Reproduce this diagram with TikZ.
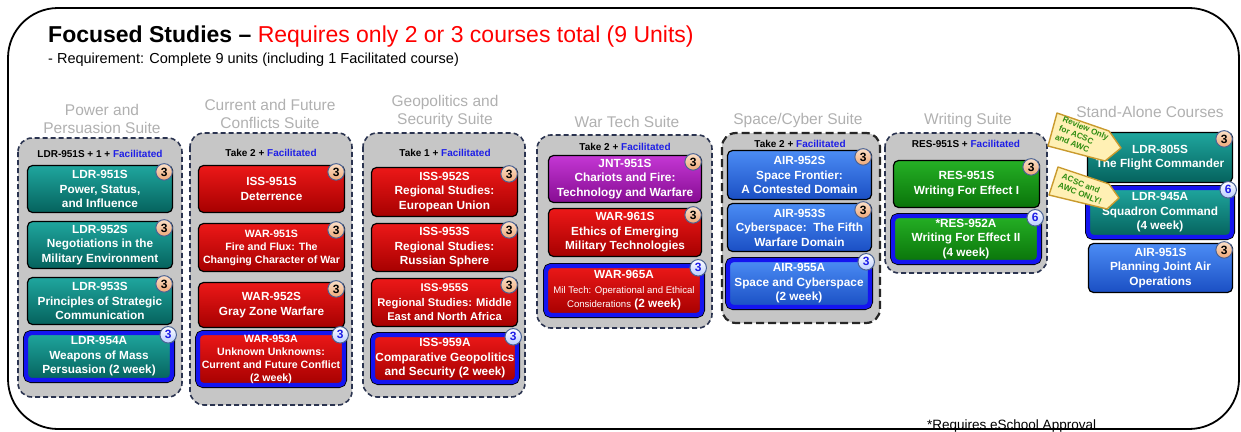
\documentclass[tikz,border=0pt]{standalone}
\usepackage{fontspec}
\setmainfont{Liberation Sans}
\definecolor{suitegray}{HTML}{C6C6C6}
\definecolor{suiteline}{HTML}{2B3450}
\definecolor{titlegray}{HTML}{B0B0B0}
\definecolor{tealT}{HTML}{1FA69E}
\definecolor{tealB}{HTML}{05625D}
\definecolor{redT}{HTML}{EC1818}
\definecolor{redB}{HTML}{A60000}
\definecolor{purT}{HTML}{C437D4}
\definecolor{purB}{HTML}{860C92}
\definecolor{bluT}{HTML}{4B8CF4}
\definecolor{bluB}{HTML}{1A4FC4}
\definecolor{grnT}{HTML}{25B025}
\definecolor{grnB}{HTML}{0A740A}
\definecolor{frameblue}{HTML}{1414F0}
\definecolor{peachT}{HTML}{FBE0C8}
\definecolor{peachB}{HTML}{EFA878}
\definecolor{badgeline}{HTML}{4A6294}
\definecolor{abadgeB}{HTML}{B9CCFF}
\definecolor{facblue}{HTML}{1E1EE6}
\definecolor{tagyellow}{HTML}{FFF0B4}
\definecolor{taggold}{HTML}{C99A2E}
\definecolor{taggreen}{HTML}{2E8C10}
\tikzset{
  suitebox/.style={draw=suiteline, line width=1.6pt, dash pattern=on 5pt off 3pt, fill=suitegray, rounded corners=14pt},
  heavysuite/.style={draw=black!85, line width=2.2pt, dash pattern=on 8pt off 4pt, fill=suitegray, rounded corners=14pt},
  suitetitle/.style={text=titlegray, font=\fontsize{15.5}{18}\selectfont, align=center},
  hdr/.style={font=\bfseries\fontsize{10}{12}\selectfont},
  course/.style={rectangle, rounded corners=5pt, draw=black, line width=1.2pt, inner sep=1pt, align=center, text=white, font=\bfseries\fontsize{11.8}{14.5}\selectfont},
  smallcourse/.style={font=\bfseries\fontsize{10.6}{13}\selectfont},
  tealc/.style={top color=tealT, bottom color=tealB},
  redc/.style={top color=redT, bottom color=redB},
  purc/.style={top color=purT, bottom color=purB},
  bluc/.style={top color=bluT, bottom color=bluB},
  grnc/.style={top color=grnT, bottom color=grnB},
  aframe/.style={draw=frameblue, line width=4.4pt, preaction={draw=black, line width=6pt}},
  badge/.style={circle, draw=badgeline, line width=1pt, inner sep=0pt, minimum size=16.5pt, top color=peachT, bottom color=peachB, text=black, font=\bfseries\fontsize{12}{12}\selectfont},
  abadge/.style={badge, top color=white, bottom color=abadgeB, text=facblue},
  tagshape/.style={fill=tagyellow, draw=taggold, line width=1.4pt, line join=round},
  tagtext/.style={inner sep=0pt, align=left, text=taggreen, font=\bfseries\fontsize{8.2}{9.6}\selectfont},
}
\begin{document}
\begin{tikzpicture}[x=1pt,y=-1pt]
\useasboundingbox (0,0) rectangle (1241,431);
\draw[line width=1.8pt, rounded corners=50pt] (8,8) rectangle (1239,429);

% title
\node[anchor=base west, inner sep=0pt, font=\fontsize{23}{26}\selectfont] (title) at (48,42)
  {\textbf{Focused Studies –} \textcolor{red}{Requires only 2 or 3 courses total (9 Units)}};
\node[anchor=base west, inner sep=0pt, font=\fontsize{14.5}{16}\selectfont] (sub) at (48,63)
  {- Requirement: Complete 9 units (including 1 Facilitated course)};
\node[anchor=base west, inner sep=0pt, font=\fontsize{13.5}{16}\selectfont] (foot) at (927,429)
  {*Requires eSchool Approval};

% column 1
\node[suitetitle] (t1) at (102,119) {Power and\\Persuasion Suite};
\filldraw[suitebox] (18,138) rectangle (182,397);
\node[hdr] (h1) at (100,154) {LDR-951S + 1 + \textcolor{facblue}{Facilitated}};
\node[course, tealc, minimum width=145, minimum height=47] (c1a) at (100,189) {LDR-951S\\Power, Status,\\and Influence};
\node[course, tealc, minimum width=145, minimum height=47] (c1b) at (100,245) {LDR-952S\\Negotiations in the\\Military Environment};
\node[course, tealc, minimum width=145, minimum height=47] (c1c) at (100,301) {LDR-953S\\Principles of Strategic\\Communication};
\node[course, tealc, aframe, minimum width=146, minimum height=47] (c1d) at (99,356.5) {LDR-954A\\Weapons of Mass\\Persuasion (2 week)};
\node[badge] (b1a) at ([shift={(-9,7)}]c1a.north east) {3};
\node[badge] (b1b) at ([shift={(-9,7)}]c1b.north east) {3};
\node[badge] (b1c) at ([shift={(-9,7)}]c1c.north east) {3};
\node[abadge] (b1d) at ([shift={(-6,4)}]c1d.north east) {3};

% column 2
\node[suitetitle] (t2) at (270,114) {Current and Future\\Conflicts Suite};
\filldraw[suitebox] (190,133) rectangle (352,405);
\node[hdr] (h2) at (271,153) {Take 2 + \textcolor{facblue}{Facilitated}};
\node[course, redc, minimum width=146, minimum height=47] (c2a) at (271.5,189) {ISS-951S\\Deterrence};
\node[course, redc, smallcourse, minimum width=146, minimum height=48] (c2b) at (271.5,247.5) {WAR-951S\\Fire and Flux: The\\Changing Character of War};
\node[course, redc, minimum width=146, minimum height=45] (c2c) at (271.5,305) {WAR-952S\\Gray Zone Warfare};
\node[course, redc, aframe, smallcourse, minimum width=146, minimum height=52] (c2d) at (271,359) {WAR-953A\\Unknown Unknowns:\\Current and Future Conflict\\(2 week)};
\node[badge] (b2a) at ([shift={(-9,7)}]c2a.north east) {3};
\node[badge] (b2b) at ([shift={(-9,7)}]c2b.north east) {3};
\node[badge] (b2c) at ([shift={(-9,7)}]c2c.north east) {3};
\node[abadge] (b2d) at ([shift={(-6,4)}]c2d.north east) {3};

% column 3
\node[suitetitle] (t3) at (445,111) {Geopolitics and\\Security Suite};
\filldraw[suitebox] (363,133) rectangle (525,397);
\node[hdr] (h3) at (445,153) {Take 1 + \textcolor{facblue}{Facilitated}};
\node[course, redc, minimum width=146, minimum height=49] (c3a) at (444.5,192) {ISS-952S\\Regional Studies:\\European Union};
\node[course, redc, minimum width=146, minimum height=48] (c3b) at (444.5,247.5) {ISS-953S\\Regional Studies:\\Russian Sphere};
\node[course, redc, minimum width=146, minimum height=48, font=\bfseries\fontsize{11.2}{14.5}\selectfont] (c3c) at (444.5,302.5) {ISS-955S\\Regional Studies: Middle\\East and North Africa};
\node[course, redc, aframe, minimum width=144, minimum height=47] (c3d) at (445,358.5) {ISS-959A\\Comparative Geopolitics\\and Security (2 week)};
\node[badge] (b3a) at ([shift={(-9,7)}]c3a.north east) {3};
\node[badge] (b3b) at ([shift={(-9,7)}]c3b.north east) {3};
\node[badge] (b3c) at ([shift={(-9,7)}]c3c.north east) {3};
\node[abadge] (b3d) at ([shift={(-6,4)}]c3d.north east) {3};

% column 4
\node[suitetitle] (t4) at (627,122) {War Tech Suite};
\filldraw[suitebox] (537,135) rectangle (712,328);
\node[hdr] (h4) at (625,147) {Take 2 + \textcolor{facblue}{Facilitated}};
\node[course, purc, minimum width=153, minimum height=47] (c4a) at (625,179) {JNT-951S\\Chariots and Fire:\\Technology and Warfare};
\node[course, redc, minimum width=153, minimum height=48] (c4b) at (625,232.5) {WAR-961S\\Ethics of Emerging\\Military Technologies};
\node[course, redc, aframe, minimum width=156, minimum height=49] (c4c) at (624,290.5) {WAR-965A\\{\mdseries\fontsize{9.6}{14}\selectfont Mil Tech: Operational and Ethical}\\{\mdseries\fontsize{9.6}{14}\selectfont Considerations} (2 week)};
\node[badge] (b4a) at ([shift={(-9,7)}]c4a.north east) {3};
\node[badge] (b4b) at ([shift={(-9,7)}]c4b.north east) {3};
\node[abadge] (b4c) at ([shift={(-6,4)}]c4c.north east) {3};

% column 5
\node[suitetitle] (t5) at (798,120) {Space/Cyber Suite};
\filldraw[heavysuite] (722,133) rectangle (880,323);
\node[hdr] (h5) at (800,144) {Take 2 + \textcolor{facblue}{Facilitated}};
\node[course, bluc, minimum width=144, minimum height=49] (c5a) at (799.5,175) {AIR-952S\\Space Frontier:\\A Contested Domain};
\node[course, bluc, minimum width=144, minimum height=48] (c5b) at (799.5,227.5) {AIR-953S\\Cyberspace:\ \ The Fifth\\Warfare Domain};
\node[course, bluc, aframe, minimum width=142, minimum height=47] (c5c) at (799,283.5) {AIR-955A\\Space and Cyberspace\\(2 week)};
\node[badge] (b5a) at ([shift={(-9,7)}]c5a.north east) {3};
\node[badge] (b5b) at ([shift={(-9,7)}]c5b.north east) {3};
\node[abadge] (b5c) at ([shift={(-6,4)}]c5c.north east) {3};

% column 6
\node[suitetitle] (t6) at (968,120) {Writing Suite};
\filldraw[suitebox] (885,133) rectangle (1047,273);
\node[hdr] (h6) at (966,144) {RES-951S + \textcolor{facblue}{Facilitated}};
\node[course, grnc, minimum width=146, minimum height=47] (c6a) at (966.5,184) {RES-951S\\Writing For Effect I};
\node[course, grnc, aframe, minimum width=146, minimum height=46] (c6b) at (966,239) {*RES-952A\\Writing For Effect II\\(4 week)};
\node[badge] (b6a) at ([shift={(-9,7)}]c6a.north east) {3};
\node[abadge] (b6b) at ([shift={(-6,4)}]c6b.north east) {6};

% column 7
\node[suitetitle] (t7) at (1150,112) {Stand-Alone Courses};
\node[course, tealc, minimum width=145, minimum height=50] (c7a) at (1160,157.5) {LDR-805S\\The Flight Commander};
\node[course, tealc, aframe, minimum width=144, minimum height=49] (c7b) at (1160,212.5) {LDR-945A\\Squadron Command\\(4 week)};
\node[course, bluc, minimum width=144, minimum height=49] (c7c) at (1160.5,268) {AIR-951S\\Planning Joint Air\\Operations};
\node[badge] (b7a) at ([shift={(-9,7)}]c7a.north east) {3};
\node[abadge] (b7b) at ([shift={(-6,4)}]c7b.north east) {6};
\node[badge] (b7c) at ([shift={(-9,7)}]c7c.north east) {3};

% tags
\filldraw[tagshape] (1057,113) -- (1109,131) -- (1121,148) -- (1105,161) -- (1048,146) -- cycle;
\node[tagtext, rotate=-23] (tag1) at (1082,137) {Review Only\\for ACSC\\and AWC};
\filldraw[tagshape] (1058,167) -- (1109,184) -- (1119,198) -- (1107,209) -- (1049,195) -- cycle;
\node[tagtext, rotate=-22] (tag2) at (1082,189) {ACSC and\\AWC ONLY!};
\end{tikzpicture}
\end{document}
